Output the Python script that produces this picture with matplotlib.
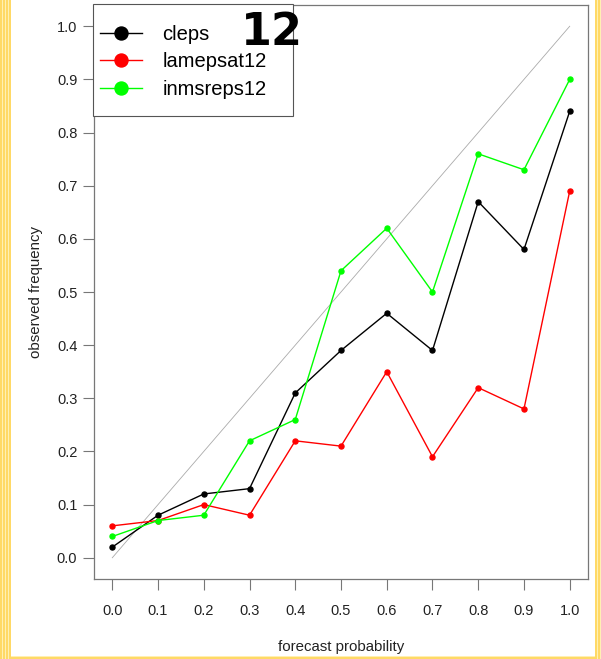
import matplotlib
matplotlib.use('Agg')
import matplotlib.pyplot as plt
from matplotlib.patches import Rectangle

plt.rcParams['font.family'] = ['Liberation Sans', 'DejaVu Sans']

probs = [0.0, 0.1, 0.2, 0.3, 0.4, 0.5, 0.6, 0.7, 0.8, 0.9, 1.0]
cleps = [0.02, 0.08, 0.12, 0.13, 0.31, 0.39, 0.46, 0.39, 0.67, 0.58, 0.84]
lamepsat12 = [0.06, 0.07, 0.10, 0.08, 0.22, 0.21, 0.35, 0.19, 0.32, 0.28, 0.69]
inmsreps12 = [0.04, 0.07, 0.08, 0.22, 0.26, 0.54, 0.62, 0.50, 0.76, 0.73, 0.90]
tick_labels = ['0.0', '0.1', '0.2', '0.3', '0.4', '0.5', '0.6', '0.7', '0.8', '0.9', '1.0']

W, H = 601, 659
fig = plt.figure(figsize=(W / 100, H / 100), dpi=100)


# yellow striped page border (left, right, bottom)
def stripes(x0, y0, w, h, vertical=True):
    n = int(w if vertical else h)
    for i in range(n):
        c = '#ffd966' if i % 3 != 2 else '#fff0b3'
        if vertical:
            r = Rectangle(((x0 + i) / W, y0 / H), 1 / W, h / H)
        else:
            r = Rectangle((x0 / W, (y0 + i) / H), w / W, 1 / H)
        r.set(facecolor=c, edgecolor='none', transform=fig.transFigure)
        fig.patches.append(r)


stripes(0, 0, 11, H)
stripes(595, 0, 6, H)
stripes(11, 0, 584, 3, vertical=False)

ax = fig.add_axes([94 / W, 1 - 579 / H, (588 - 94) / W, (579 - 5) / H])
ax.set_xlim(-0.04, 1.04)
ax.set_ylim(-0.04, 1.04)

ax.plot([0, 1], [0, 1], color='#aaaaaa', lw=0.6)
ax.plot(probs, cleps, color='black', lw=1, marker='o', ms=3.6, label='cleps')
ax.plot(probs, lamepsat12, color='#ff0000', lw=1, marker='o', ms=3.6, label='lamepsat12')
ax.plot(probs, inmsreps12, color='#00ff00', lw=1, marker='o', ms=3.6, label='inmsreps12')

for s in ax.spines.values():
    s.set_color('#777777')
    s.set_linewidth(0.9)

ax.set_xticks(probs)
ax.set_xticklabels(tick_labels)
ax.set_yticks(probs)
ax.set_yticklabels(tick_labels)
ax.tick_params(axis='both', direction='out', length=8, width=0.8, color='#777777',
               labelsize=10.5, labelcolor='#222222')
ax.tick_params(axis='x', pad=10)
ax.tick_params(axis='y', pad=4)

ax.set_xlabel('forecast probability', fontsize=10.8, labelpad=16, color='#222222')
ax.set_ylabel('observed frequency', fontsize=10.8, labelpad=10, color='#222222')

# legend box drawn separately (R-style, more vertical padding than horizontal)
box = Rectangle((-0.002, (579 - 116) / 574), (293 - 93) / 494, 1.002 - (579 - 116) / 574,
                transform=ax.transAxes, facecolor='white', edgecolor='#555555',
                lw=0.8, zorder=4, clip_on=False)
ax.add_patch(box)
leg = ax.legend(loc='upper left', bbox_to_anchor=(-0.006, 0.981), fontsize=14.5,
                frameon=False, borderpad=0.45, labelspacing=0.42,
                handlelength=2.1, handletextpad=1.0, markerscale=2.6, borderaxespad=0)
leg.set_zorder(5)

t = ax.text(0.348, 0.964, '12', fontsize=32, fontweight='bold', ha='center',
            va='baseline', family='DejaVu Sans', transform=ax.transData)
t.set_zorder(10)

fig.savefig('out.png', dpi=100)
